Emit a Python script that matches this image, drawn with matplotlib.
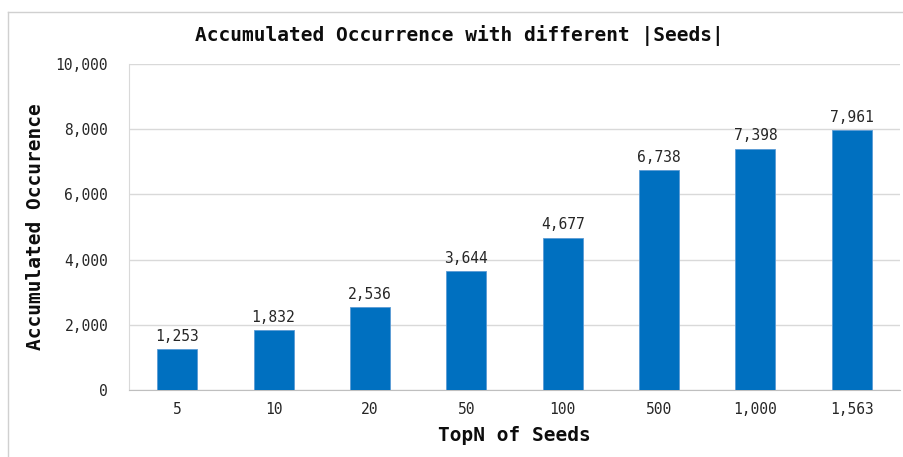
import matplotlib
matplotlib.use("Agg")
import matplotlib.pyplot as plt
from matplotlib.lines import Line2D
from matplotlib.ticker import FuncFormatter, MultipleLocator

# Accumulated occurrence for each TopN cutoff of seeds
categories = ["5", "10", "20", "50", "100", "500", "1,000", "1,563"]
occurrence = [1253, 1832, 2536, 3644, 4677, 6738, 7398, 7961]

title = "Accumulated Occurrence with different |Seeds|"
xlabel = "TopN of Seeds"
ylabel = "Accumulated Occurence"

FONT = "DejaVu Sans Mono"
BAR_COLOR = "#0070C0"
GRID_COLOR = "#D9D9D9"

W, H = 904, 457
fig = plt.figure(figsize=(W / 100, H / 100), dpi=100)
fig.patch.set_facecolor("white")

# chart-area frame: only the top and left edges fall inside the canvas
fx, fy = 7.5 / W, 1 - 11.5 / H
fig.add_artist(Line2D([fx, 1.0], [fy, fy], transform=fig.transFigure,
                      color="#D0D0D0", linewidth=1.0))
fig.add_artist(Line2D([fx, fx], [0.0, fy], transform=fig.transFigure,
                      color="#D0D0D0", linewidth=1.0))

ax = fig.add_axes([129 / W, (H - 390) / H, (900 - 129) / W, (390 - 64) / H])

x = list(range(len(categories)))
bars = ax.bar(x, occurrence, width=0.415, color=BAR_COLOR,
              edgecolor="#5B9BD5", linewidth=0.6, zorder=3)

for xi, v in zip(x, occurrence):
    ax.annotate(f"{v:,}", (xi, v), xytext=(0, 4), textcoords="offset points",
                ha="center", va="bottom", fontsize=10.5, family=FONT,
                color="#262626")

ax.set_xlim(-0.5, len(categories) - 0.5)
ax.set_ylim(0, 10000)
ax.yaxis.set_major_locator(MultipleLocator(2000))
ax.yaxis.set_major_formatter(FuncFormatter(lambda v, _: f"{int(v):,}"))
ax.set_xticks(x)
ax.set_xticklabels(categories)

ax.grid(axis="y", color=GRID_COLOR, linewidth=1.0, zorder=0)
ax.tick_params(axis="both", length=0, labelsize=10.5, colors="#262626")
ax.tick_params(axis="y", pad=15)
ax.tick_params(axis="x", pad=9)
for lab in ax.get_xticklabels() + ax.get_yticklabels():
    lab.set_family(FONT)

for side in ("top", "right"):
    ax.spines[side].set_visible(False)
ax.spines["left"].set_color(GRID_COLOR)
ax.spines["bottom"].set_color("#BFBFBF")

ax.set_xlabel(xlabel, fontsize=14, fontweight="bold", family=FONT,
              color="#0D0D0D", labelpad=6)
ax.set_ylabel(ylabel, fontsize=14, fontweight="bold", family=FONT,
              color="#0D0D0D", labelpad=8)
fig.text(459 / W, 1 - 35 / H, title, ha="center",
         va="center", fontsize=14, fontweight="bold", family=FONT,
         color="#0D0D0D")

fig.savefig("out.png", dpi=100, facecolor="white")
